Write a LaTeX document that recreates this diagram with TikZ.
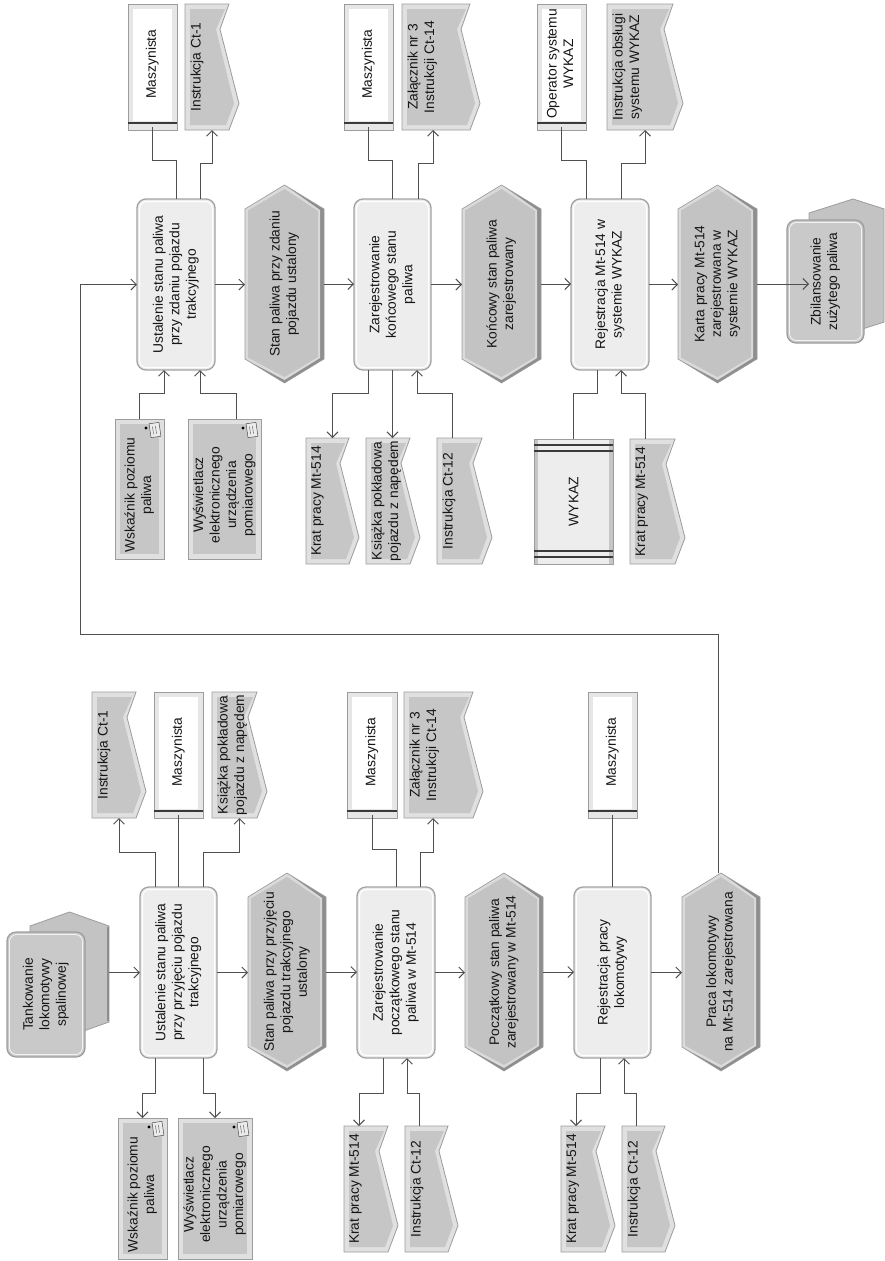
\documentclass[tikz,border=0pt]{standalone}
\usepackage{fontspec}
\setmainfont{Liberation Sans}
\usepackage{graphicx}
\usetikzlibrary{arrows.meta,calc}
\definecolor{lnc}{HTML}{505050}
\definecolor{edgeg}{HTML}{9C9C9C}
\definecolor{docfill}{HTML}{C6C6C6}
\definecolor{doclight}{HTML}{E0E0E0}
\definecolor{funcfill}{HTML}{EDEDED}
\definecolor{funcedge}{HTML}{A2A2A2}
\definecolor{evfill}{HTML}{C3C3C3}
\definecolor{evdark}{HTML}{8E8E8E}
\definecolor{evlight}{HTML}{DADADA}
\definecolor{persframe}{HTML}{E6E6E6}
\definecolor{darkline}{HTML}{3A3A3A}
\definecolor{compfill}{HTML}{C9C9C9}
\definecolor{txt}{HTML}{151515}
\tikzset{
  conn/.style={draw=lnc, line width=1pt},
  arr/.style={conn, -{Straight Barb[length=5.5pt,width=11pt]}},
  lbl/.style={inner sep=0pt, outer sep=0pt, text=txt, font=\fontsize{13.8}{16.5}\selectfont},
}
% document shape
\newcommand\DocBox[6]{%
  \pgfmathsetmacro\dya{#3+0.2*(#5-#3)}%
  \pgfmathsetmacro\dyb{#3+0.79*(#5-#3)}%
  \filldraw[fill=doclight,draw=edgeg,line width=0.8pt] (#2,#3) -- ({#4-10},#3) -- ({#4-19},\dya) -- (#4,\dyb) -- ({#4-10},#5) -- (#2,#5) -- cycle;
  \fill[docfill] ({#2+5},{#3+5}) -- ({#4-14},{#3+5}) -- ({#4-23},\dya) -- ({#4-5},\dyb) -- ({#4-13},{#5-5}) -- ({#2+5},{#5-5}) -- cycle;
  \node[lbl, minimum width={#4-#2}, minimum height={#5-#3}] (#1) at ({(#2+#4)/2},{(#3+#5)/2})
    {\rotatebox{90}{\parbox[c][\dimexpr #4pt-#2pt-11pt\relax][t]{\dimexpr #5pt-#3pt-4pt\relax}{\centering #6}}};
}
% person shape
\newcommand\PersBox[6]{%
  \filldraw[fill=persframe,draw=edgeg,line width=0.8pt] (#2,#3) rectangle (#4,#5);
  \fill[white] ({#2+5},{#3+5}) rectangle ({#4-5},{#5-9});
  \draw[darkline,line width=1.3pt] (#2,{#5-7}) -- (#4,{#5-7});
  \node[lbl, minimum width={#4-#2}, minimum height={#5-#3}] (#1) at ({(#2+#4)/2},{(#3+#5)/2-3})
    {\rotatebox{90}{\begin{tabular}{@{}c@{}}#6\end{tabular}}};
}
% equipment shape
\newcommand\EquipBox[6]{%
  \filldraw[fill=doclight,draw=edgeg,line width=0.8pt] (#2,#3) rectangle (#4,#5);
  \fill[docfill] ({#2+5},{#3+5}) rectangle ({#4-5},{#5-5});
  \begin{scope}[rotate around={8:({#4-9},{#3+11})}]
    \filldraw[fill=white!85!gray,draw=gray!60!black,line width=0.5pt] ({#4-14},{#3+4}) rectangle ({#4-4},{#3+18});
    \draw[gray!60!black,line width=0.4pt] ({#4-11},{#3+7}) -- ({#4-11},{#3+15}) ({#4-8},{#3+7}) -- ({#4-8},{#3+15});
  \end{scope}
  \fill[black] ({#4-18},{#3+9}) circle[radius=1.7pt];
  \node[lbl, minimum width={#4-#2}, minimum height={#5-#3}] (#1) at ({(#2+#4)/2},{(#3+#5)/2})
    {\rotatebox{90}{\begin{tabular}{@{}c@{}}#6\end{tabular}\hspace{12pt}}};
}
% function shape
\newcommand\FuncBox[6]{%
  \filldraw[fill=funcfill,draw=funcedge,line width=1.3pt,rounded corners=9pt] (#2,#3) rectangle (#4,#5);
  \draw[white,line width=1pt,rounded corners=7pt] ({#2+2.5},{#3+2.5}) rectangle ({#4-2.5},{#5-2.5});
  \node[lbl, minimum width={#4-#2}, minimum height={#5-#3}] (#1) at ({(#2+#4)/2},{(#3+#5)/2})
    {\rotatebox{90}{\begin{tabular}{@{}c@{}}#6\end{tabular}}};
}
% event shape
\newcommand\EvtBox[6]{%
  \pgfmathsetmacro\exc{(#2+#4)/2}%
  \fill[evdark] (#2,{#3+24}) -- (\exc,#3) -- (#4,{#3+24}) -- (#4,{#5-24}) -- (\exc,#5) -- (#2,{#5-24}) -- cycle;
  \fill[evlight] (#2,{#3+24}) -- (\exc,#3) -- ({#4-4},{#3+25}) -- ({#4-4},{#5-25}) -- (\exc,{#5-3}) -- (#2,{#5-24}) -- cycle;
  \fill[evfill] ({#2+3},{#3+25.5}) -- (\exc,{#3+4}) -- ({#4-6},{#3+26}) -- ({#4-6},{#5-26}) -- (\exc,{#5-6}) -- ({#2+3},{#5-25.5}) -- cycle;
  \draw[edgeg,line width=0.6pt] (#2,{#3+24}) -- (\exc,#3) -- (#4,{#3+24}) -- (#4,{#5-24}) -- (\exc,#5) -- (#2,{#5-24}) -- cycle;
  \node[lbl, minimum width={#4-#2}, minimum height={#5-#3}] (#1) at ({(#2+#4)/2},{(#3+#5)/2})
    {\rotatebox{90}{\begin{tabular}{@{}c@{}}#6\end{tabular}}};
}
\begin{document}
\begin{tikzpicture}[x=1pt,y=-1pt]
\useasboundingbox (0,0) rectangle (884,1261);
\fill[white] (0,0) rectangle (884,1261);

% ================= lower process =================
% Tankowanie (process interface)
\filldraw[fill=evfill,draw=edgeg,line width=0.8pt] (30,926) -- (69.5,912) -- (109,926) -- (109,1022) -- (69.5,1036) -- (30,1022) -- cycle;
\draw[evdark,line width=2pt] (107.5,927) -- (107.5,1021);
\node[inner sep=0pt,minimum width=79,minimum height=124] (tankb) at (69.5,974) {};
\filldraw[fill=compfill,draw=edgeg,line width=1.2pt,rounded corners=9pt] (7,932) rectangle (85,1057);
\draw[white!90!gray,line width=0.9pt,rounded corners=7pt] (9.5,934.5) rectangle (82.5,1054.5);
\node[lbl] (tank) at (46,994.5) {\rotatebox{90}{\begin{tabular}{@{}c@{}}Tankowanie\\lokomotywy\\spalinowej\end{tabular}}};

\FuncBox{ust1}{140}{887}{217}{1058}{Ustalenie stanu paliwa\\przy przyjęciu pojazdu\\trakcyjnego}
\EvtBox{ev1}{248}{873}{326}{1071}{Stan paliwa przy przyjęciu\\pojazdu trakcyjnego\\ustalony}
\FuncBox{zar1}{357}{887}{435}{1058}{Zarejestrowanie\\początkowego stanu\\paliwa w Mt-514}
\EvtBox{ev2}{465}{873}{543}{1071}{Początkowy stan paliwa\\zarejestrowany w Mt-514}
\FuncBox{rej1}{574}{887}{651}{1058}{Rejestracja pracy\\lokomotywy}
\EvtBox{ev3}{682}{873}{760}{1071}{Praca lokomotywy\\na Mt-514 zarejestrowana}

\DocBox{ins1}{92}{692}{146}{818}{Instrukcja Ct-1}
\PersBox{masz1}{154}{692}{203}{818}{Maszynista}
\DocBox{ksi1}{212}{692}{267}{818}{Książka pokładowa\\pojazdu z napędem}
\PersBox{masz2}{347}{692}{397}{818}{Maszynista}
\DocBox{zal1}{404}{692}{483}{818}{Załącznik nr 3\\Instrukcji Ct-14}
\PersBox{masz3}{588}{692}{637}{818}{Maszynista}

\EquipBox{wsk1}{118}{1118}{167}{1259}{Wskaźnik poziomu\\paliwa}
\EquipBox{wys1}{178}{1118}{252}{1259}{Wyświetlacz\\elektronicznego\\urządzenia\\pomiarowego}
\DocBox{krat1}{344}{1126}{398}{1252}{Krat pracy Mt-514}
\DocBox{ict12a}{405}{1126}{458}{1252}{Instrukcja Ct-12}
\DocBox{krat2}{561}{1126}{615}{1252}{Krat pracy Mt-514}
\DocBox{ict12b}{622}{1126}{675}{1252}{Instrukcja Ct-12}

% ================= upper process =================
\FuncBox{ust2}{137}{199}{215}{370}{Ustalenie stanu paliwa\\przy zdaniu pojazdu\\trakcyjnego}
\EvtBox{ev4}{245}{185}{324}{383}{Stan paliwa przy zdaniu\\pojazdu ustalony}
\FuncBox{zar2}{354}{199}{431}{370}{Zarejestrowanie\\końcowego stanu\\paliwa}
\EvtBox{ev5}{462}{185}{541}{383}{Końcowy stan paliwa\\zarejestrowany}
\FuncBox{rej2}{571}{199}{649}{370}{Rejestracja Mt-514 w\\systemie WYKAZ}
\EvtBox{ev6}{678}{185}{757}{383}{Karta pracy Mt-514\\zarejestrowana w\\systemie WYKAZ}

% Zbilansowanie (process interface)
\filldraw[fill=evfill,draw=edgeg,line width=0.8pt] (809,213) -- (853,199) -- (884,208.9) -- (884,322.1) -- (853,332) -- (809,318) -- cycle;
\filldraw[fill=compfill,draw=edgeg,line width=1.2pt,rounded corners=9pt] (787,220) rectangle (864,343);
\draw[white!90!gray,line width=0.9pt,rounded corners=7pt] (789.5,222.5) rectangle (861.5,340.5);
\node[lbl] (zbil) at (825.5,281.5) {\rotatebox{90}{\begin{tabular}{@{}c@{}}Zbilansowanie\\zużytego paliwa\end{tabular}}};

\PersBox{masz4}{128}{4}{177}{130}{Maszynista}
\DocBox{ins2}{185}{4}{239}{130}{Instrukcja Ct-1}
\PersBox{masz5}{344}{4}{393}{130}{Maszynista}
\DocBox{zal2}{402}{4}{480}{130}{Załącznik nr 3\\Instrukcji Ct-14}
\PersBox{oper}{537}{4}{586}{130}{Operator systemu\\WYKAZ}
\DocBox{iobs}{607}{4}{683}{130}{Instrukcja obsługi\\systemu WYKAZ}

\EquipBox{wsk2}{115}{419}{164}{559}{Wskaźnik poziomu\\paliwa}
\EquipBox{wys2}{188}{419}{261}{559}{Wyświetlacz\\elektronicznego\\urządzenia\\pomiarowego}
\DocBox{krat3}{306}{438}{359}{564}{Krat pracy Mt-514}
\DocBox{ksi2}{366}{438}{420}{564}{Książka pokładowa\\pojazdu z napędem}
\DocBox{ict12c}{437}{438}{492}{564}{Instrukcja Ct-12}
% WYKAZ (application system)
\filldraw[fill=funcfill,draw=edgeg,line width=0.8pt] (534,439) rectangle (613,564);
\fill[docfill] (534.5,439.5) rectangle (538,563.5);
\fill[docfill] (609,439.5) rectangle (612.5,563.5);
\draw[darkline,line width=1.2pt] (534,445) -- (613,445) (534,451) -- (613,451) (534,551) -- (613,551) (534,557) -- (613,557);
\node[lbl,minimum width=79,minimum height=125] (wykaz) at (573.5,501.5) {\rotatebox{90}{WYKAZ}};
\DocBox{krat4}{630}{439}{685}{564}{Krat pracy Mt-514}

% ================= connectors: lower =================
\draw[arr] (tankb.east |- ust1.west) -- (ust1.west);
\draw[arr] (ust1.east) -- (ust1.east -| ev1.west);
\draw[arr] (ev1.east) -- (ev1.east -| zar1.west);
\draw[arr] (zar1.east) -- (zar1.east -| ev2.west);
\draw[arr] (ev2.east) -- (ev2.east -| rej1.west);
\draw[arr] (rej1.east) -- (rej1.east -| ev3.west);

\draw[arr] ([xshift=-23.5pt]ust1.north) -- ++(0,-35) -| (ins1.south);
\draw[conn] (ust1.north) -- (masz1.south);
\draw[arr] ([xshift=24.5pt]ust1.north) -- ++(0,-35) -| (ksi1.south);
\draw[arr] ([xshift=-23.5pt]ust1.south) -- ++(0,35) -| (wsk1.north);
\draw[arr] ([xshift=24.5pt]ust1.south) -- ++(0,35) -| (wys1.north);
\draw[conn] (masz2.south) -- ++(0,34) -| (zar1.north);
\draw[arr] ([xshift=24pt]zar1.north) -- ++(0,-35) -| ([xshift=-10.5pt]zal1.south);
\draw[arr] ([xshift=-13pt]zar1.south) -- ++(0,35) -| ([xshift=-12pt]krat1.north);
\draw[arr] ([xshift=-12.5pt]ict12a.north) -- ++(0,-33) -| ([xshift=11pt]zar1.south);
\draw[conn] (rej1.north) -- (masz3.south);
\draw[arr] ([xshift=-12.5pt]rej1.south) -- ++(0,35) -| ([xshift=-12pt]krat2.north);
\draw[arr] ([xshift=-12.5pt]ict12b.north) -- ++(0,-33) -| ([xshift=11.5pt]rej1.south);

% feedback to upper process
\coordinate (fbc) at (80,634);
\draw[arr] ([xshift=-3pt]ev3.north) |- (fbc) |- (ust2.west);

% ================= connectors: upper =================
\draw[arr] (ust2.east) -- (ust2.east -| ev4.west);
\draw[arr] (ev4.east) -- (ev4.east -| zar2.west);
\draw[arr] (zar2.east) -- (zar2.east -| ev5.west);
\draw[arr] (ev5.east) -- (ev5.east -| rej2.west);
\draw[arr] (rej2.east) -- (rej2.east -| ev6.west);
\draw[arr] (ev6.east) -- (ev6.east -| zbil.west);

\draw[conn] (masz4.south) -- ++(0,33) -| (ust2.north);
\draw[arr] ([xshift=24pt]ust2.north) -- ++(0,-36) -| (ins2.south);
\draw[arr] (wsk2.north) -- ++(0,-26) -| ([xshift=-12pt]ust2.south);
\draw[arr] ([xshift=11.5pt]wys2.north) -- ++(0,-26) -| ([xshift=24pt]ust2.south);
\draw[conn] (masz5.south) -- ++(0,33) -| (zar2.north);
\draw[arr] ([xshift=25.5pt]zar2.north) -- ++(0,-36) -| ([xshift=-8pt]zal2.south);
\draw[arr] ([xshift=-24.5pt]zar2.south) -- ++(0,23) -| (krat3.north);
\draw[arr] (zar2.south) -- (zar2.south |- ksi2.north);
\draw[arr] ([xshift=-12.5pt]ict12c.north) -- ++(0,-45) -| ([xshift=24.5pt]zar2.south);
\draw[conn] (oper.south) -- ++(0,33) -| ([xshift=-24pt]rej2.north);
\draw[arr] ([xshift=11pt]rej2.north) -- ++(0,-36) -| (iobs.south);
\draw[conn] (wykaz.north) -- ++(0,-46) -| ([xshift=-13pt]rej2.south);
\draw[arr] ([xshift=-12.5pt]krat4.north) -- ++(0,-46) -| ([xshift=11pt]rej2.south);
\end{tikzpicture}
\end{document}
